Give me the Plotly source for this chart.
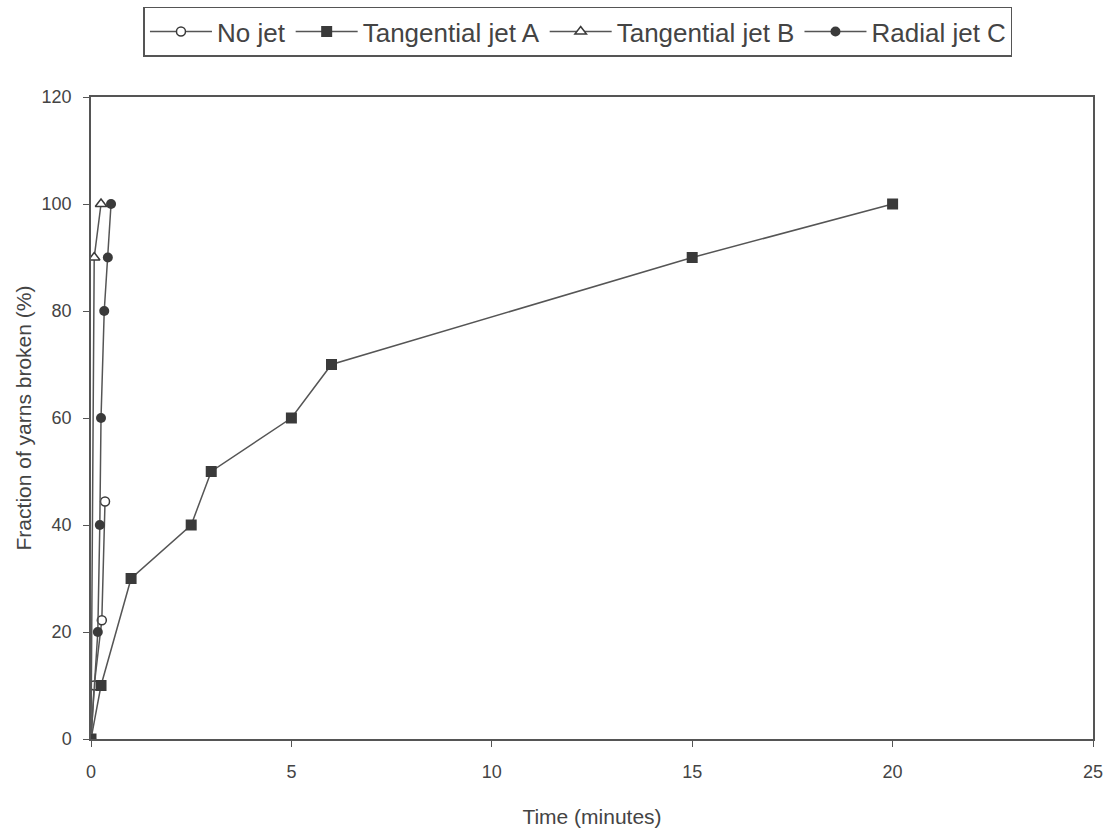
import plotly.graph_objects as go

# Time (minutes) and fraction of yarns broken (%) for each jet configuration
no_jet_t = [0, 0.08, 0.27, 0.35]
no_jet_y = [0, 10, 22.2, 44.4]

tang_a_t = [0, 0.25, 1, 2.5, 3, 5, 6, 15, 20]
tang_a_y = [0, 10, 30, 40, 50, 60, 70, 90, 100]

tang_b_t = [0, 0.08, 0.25]
tang_b_y = [0, 90, 100]

radial_c_t = [0, 0.17, 0.22, 0.25, 0.33, 0.42, 0.5]
radial_c_y = [0, 20, 40, 60, 80, 90, 100]

line_col = "#555555"
mark_col = "#3a3a3a"
font_fam = "Liberation Sans, Arial, sans-serif"

fig = go.Figure()
fig.add_trace(go.Scatter(
    x=no_jet_t, y=no_jet_y, name="No jet", mode="lines+markers",
    line=dict(color=line_col, width=1.5),
    marker=dict(symbol="circle", size=9, color="white", line=dict(color=mark_col, width=1.5)),
))
fig.add_trace(go.Scatter(
    x=tang_a_t, y=tang_a_y, name="Tangential jet A", mode="lines+markers",
    line=dict(color=line_col, width=1.5),
    marker=dict(symbol="square", size=11, color=mark_col),
))
fig.add_trace(go.Scatter(
    x=tang_b_t, y=tang_b_y, name="Tangential jet B", mode="lines+markers",
    line=dict(color=line_col, width=1.5),
    marker=dict(symbol="triangle-up", size=10, color="white", line=dict(color=mark_col, width=1.5)),
))
fig.add_trace(go.Scatter(
    x=radial_c_t, y=radial_c_y, name="Radial jet C", mode="lines+markers",
    line=dict(color=line_col, width=1.5),
    marker=dict(symbol="circle", size=10, color=mark_col),
))

fig.update_layout(
    width=1109, height=834,
    paper_bgcolor="white", plot_bgcolor="white",
    margin=dict(l=91, r=16, t=97, b=95),
    font=dict(family=font_fam, size=18, color="#444444"),
    legend=dict(
        orientation="h", x=0.486, xanchor="center", y=0.992, yanchor="top",
        yref="container",
        bordercolor="#555555", borderwidth=1.5, bgcolor="white",
        font=dict(size=26, color="#444444"),
        itemwidth=62, tracegroupgap=0,
    ),
    showlegend=True,
)

fig.update_xaxes(
    range=[0, 25], tick0=0, dtick=5,
    title=dict(text="Time (minutes)", font=dict(size=21), standoff=28),
    automargin=False,
    showgrid=False, zeroline=False,
    showline=True, linecolor="#555555", linewidth=1.5, mirror=True,
    ticks="outside", ticklen=6, tickcolor="#555555",
    ticklabelstandoff=10,
    tickfont=dict(size=18),
)
fig.update_yaxes(
    range=[0, 120], tick0=0, dtick=20,
    title=dict(text="Fraction of yarns broken (%)", font=dict(size=21), standoff=4),
    automargin=False,
    showgrid=False, zeroline=False,
    showline=True, linecolor="#555555", linewidth=1.5, mirror=True,
    ticks="outside", ticklen=6, tickcolor="#555555",
    ticklabelstandoff=8,
    tickfont=dict(size=18),
)

fig.write_html("out.html")
